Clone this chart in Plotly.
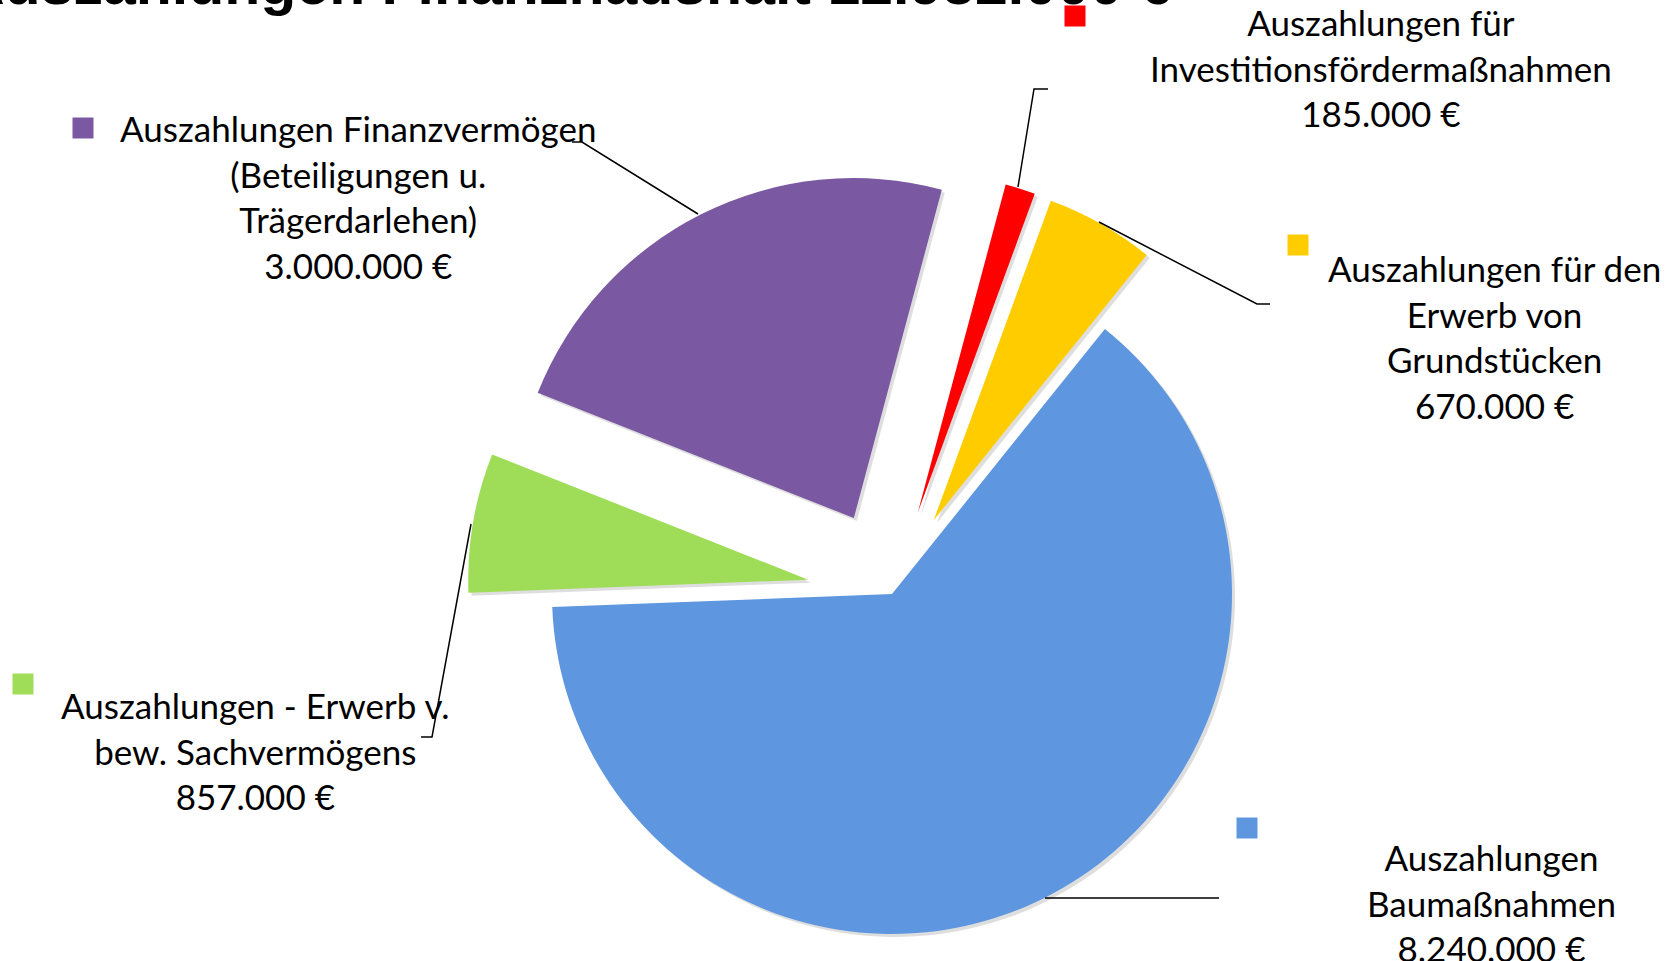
import math

import plotly.graph_objects as go

W, H = 1673, 961

categories = [
    "Auszahlungen für Investitionsfördermaßnahmen",
    "Auszahlungen für den Erwerb von Grundstücken",
    "Auszahlungen Baumaßnahmen",
    "Auszahlungen - Erwerb v. bew. Sachvermögens",
    "Auszahlungen Finanzvermögen (Beteiligungen u. Trägerdarlehen)",
]
label_lines = [
    ["Auszahlungen für", "Investitionsfördermaßnahmen"],
    ["Auszahlungen für den", "Erwerb von", "Grundstücken"],
    ["Auszahlungen", "Baumaßnahmen"],
    ["Auszahlungen - Erwerb v.", "bew. Sachvermögens"],
    ["Auszahlungen Finanzvermögen", "(Beteiligungen u.", "Trägerdarlehen)"],
]
values = [185000, 670000, 8240000, 857000, 3000000]
title_text = "Auszahlungen Finanzhaushalt"

# styling / placement (pixels of the 1673x961 page)
colors = ["#ff0000", "#ffcc00", "#5e97e0", "#9fdd58", "#7a58a2"]
pulls = [0.25, 0.25, 0.0, 0.25, 0.25]
center = (892, 594)
radius = 340
rotation = 15
label_pos = [(1381, 67), (1494, 336), (1491, 902), (256, 750), (358, 196)]
square_pos = [(1075, 16), (1298, 245), (1247, 828), (23, 684), (83, 128)]
leaders = [
    [(1018, 187), (1034, 89), (1048, 89)],
    [(1099, 222), (1257, 304), (1270, 304)],
    [(1045, 898), (1219, 898)],
    [(471, 524), (432, 737), (421, 737)],
    [(698, 214), (582, 142), (572, 142)],
]
FONT = "Lato, Carlito, Calibri, sans-serif"


def px(x, y):
    return x / W, 1 - y / H


def euro(v):
    return f"{v:,}".replace(",", ".") + " €"


total = sum(values)
fig = go.Figure()


def slice_trace(i, x0, y0, color):
    return go.Pie(
        labels=categories,
        values=values,
        sort=False,
        direction="clockwise",
        rotation=rotation,
        textinfo="none",
        hoverinfo="label+value+percent",
        showlegend=False,
        marker=dict(
            colors=[color if j == i else "rgba(0,0,0,0)" for j in range(len(values))],
            line=dict(width=0),
        ),
        domain=dict(
            x=[(x0 - radius) / W, (x0 + radius) / W],
            y=[1 - (y0 + radius) / H, 1 - (y0 - radius) / H],
        ),
    )


# one pie trace per slice so each exploded slice keeps the full radius
centers = []
angle = rotation
for i, v in enumerate(values):
    mid = math.radians(angle + v / total * 180)
    angle += v / total * 360
    off = pulls[i] * radius
    centers.append((center[0] + off * math.sin(mid), center[1] - off * math.cos(mid)))

# soft drop shadow under the slices
for i, (x0, y0) in enumerate(centers):
    fig.add_trace(slice_trace(i, x0 + 3, y0 + 3, "rgba(0,0,0,0.13)"))
for i, (x0, y0) in enumerate(centers):
    fig.add_trace(slice_trace(i, x0, y0, colors[i]))

annotations = []
shapes = []
for i, v in enumerate(values):
    lx, ly = px(*label_pos[i])
    annotations.append(
        dict(
            x=lx, y=ly, xref="paper", yref="paper",
            text="<br>".join(label_lines[i] + [euro(v)]),
            showarrow=False, xanchor="center", yanchor="middle",
            font=dict(family=FONT, size=35, color="black"),
        )
    )
    sx, sy = square_pos[i]
    x_a, y_a = px(sx - 10.5, sy + 10.5)
    x_b, y_b = px(sx + 10.5, sy - 10.5)
    shapes.append(
        dict(type="rect", xref="paper", yref="paper", x0=x_a, y0=y_a, x1=x_b, y1=y_b,
             fillcolor=colors[i], line=dict(width=0))
    )
    pts = [px(*p) for p in leaders[i]]
    path = "M " + " L ".join(f"{a:.5f},{b:.5f}" for a, b in pts)
    shapes.append(
        dict(type="path", xref="paper", yref="paper", path=path,
             line=dict(color="black", width=1.5))
    )

# title sits mostly above the visible area, as in the cropped original
tx, ty = px(1174, 19)
annotations.append(
    dict(
        x=tx, y=ty, xref="paper", yref="paper",
        text=f"<b>{title_text} {euro(total)}</b>",
        showarrow=False, xanchor="right", yanchor="bottom",
        font=dict(family="Arial, Liberation Sans, sans-serif", size=59, color="black"),
    )
)

fig.update_layout(
    width=W,
    height=H,
    margin=dict(l=0, r=0, t=0, b=0),
    paper_bgcolor="white",
    plot_bgcolor="white",
    annotations=annotations,
    shapes=shapes,
)

fig.write_html(
    "out.html",
    config={"displayModeBar": False},
    post_script="document.body.style.margin = '0';",
)
